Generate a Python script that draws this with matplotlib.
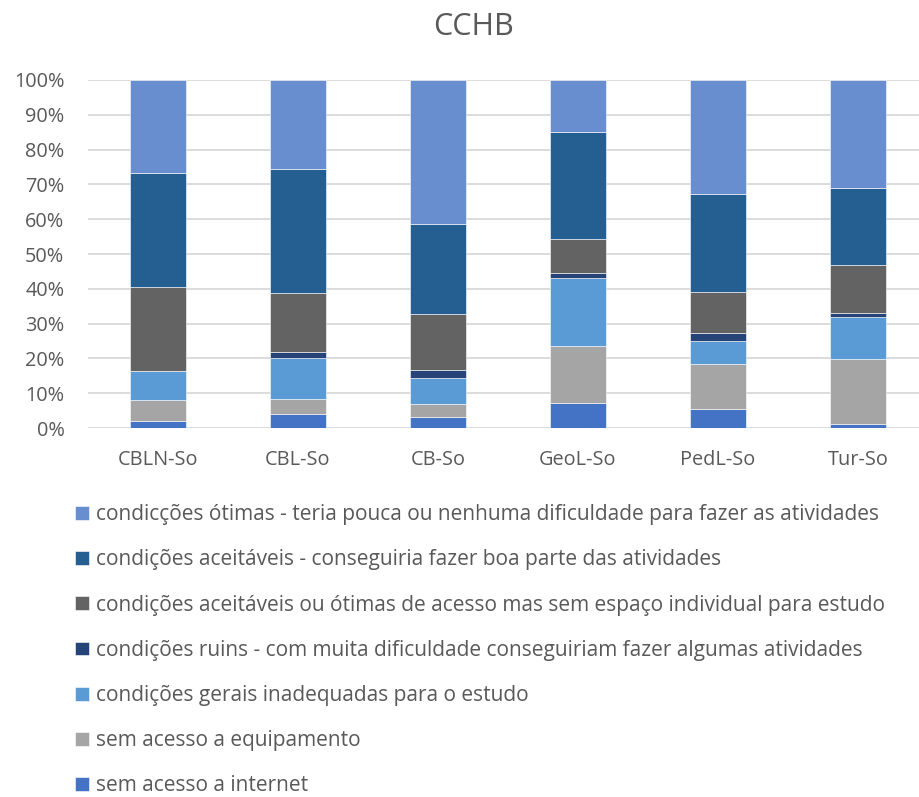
import numpy as np
import matplotlib.pyplot as plt
from matplotlib.ticker import PercentFormatter

plt.rcParams['font.family'] = ['Open Sans', 'DejaVu Sans']

# categories and shares (%) per response, bottom to top
cursos = ["CBLN-So", "CBL-So", "CB-So", "GeoL-So", "PedL-So", "Tur-So"]
sem_internet = [2.0, 4.1, 3.2, 7.3, 5.4, 1.1]
sem_equipamento = [6.1, 4.2, 3.7, 16.2, 13.0, 18.6]
gerais_inadequadas = [8.3, 11.7, 7.4, 19.7, 6.6, 12.3]
ruins = [0.0, 1.9, 2.5, 1.2, 2.2, 1.1]
sem_espaco = [24.2, 17.0, 15.9, 9.8, 11.9, 13.7]
aceitaveis = [32.7, 35.6, 26.0, 30.9, 28.1, 22.3]
otimas = [26.7, 25.5, 41.3, 14.9, 32.8, 30.9]

labels = [
    "sem acesso a internet",
    "sem acesso a equipamento",
    "condições gerais inadequadas para o estudo",
    "condições ruins - com muita dificuldade conseguiriam fazer algumas atividades",
    "condições aceitáveis ou ótimas de acesso mas sem espaço individual para estudo",
    "condições aceitáveis - conseguiria fazer boa parte das atividades",
    "condicções ótimas - teria pouca ou nenhuma dificuldade para fazer as atividades",
]
series = [sem_internet, sem_equipamento, gerais_inadequadas, ruins,
          sem_espaco, aceitaveis, otimas]
cores = ["#4472C4", "#A5A5A5", "#5B9BD5", "#264478", "#636363", "#255E91", "#698ED0"]

txt = "#595959"
fig = plt.figure(figsize=(9.2, 7.97), dpi=100)
ax = fig.add_axes([88 / 920, 1 - 428 / 797, 840 / 920, 348 / 797])

x = np.arange(len(cursos))
bottom = np.zeros(len(cursos))
handles = []
for vals, lab, cor in zip(series, labels, cores):
    vals = np.array(vals)
    b = ax.bar(x, vals, 0.4, bottom=bottom, color=cor, label=lab,
               edgecolor="white", linewidth=0.4, zorder=3)
    handles.append(b)
    bottom += vals

ax.set_xlim(-0.5, 5.5)
ax.set_ylim(0, 100)
ax.set_yticks(np.arange(0, 101, 10))
ax.yaxis.set_major_formatter(PercentFormatter(decimals=0))
ax.set_xticks(x)
ax.set_xticklabels(cursos)
ax.tick_params(axis="both", length=0, labelsize=14.3, colors=txt)
ax.tick_params(axis="y", pad=17)
ax.tick_params(axis="x", pad=16)
ax.grid(axis="y", color="#D9D9D9", linewidth=1.3, zorder=0)
for s in ax.spines.values():
    s.set_visible(False)

fig.text(474 / 920, 1 - 27 / 797, "CCHB", ha="center", va="center",
         fontsize=22, color=txt)

fig.legend(handles[::-1], labels[::-1], loc="upper left",
           bbox_to_anchor=(67 / 920, 1 - 496 / 797), frameon=False,
           fontsize=15, labelcolor=txt, handlelength=0.65, handleheight=0.65,
           handletextpad=0.35, labelspacing=1.16, borderaxespad=0)

fig.savefig("out.png", dpi=100)
